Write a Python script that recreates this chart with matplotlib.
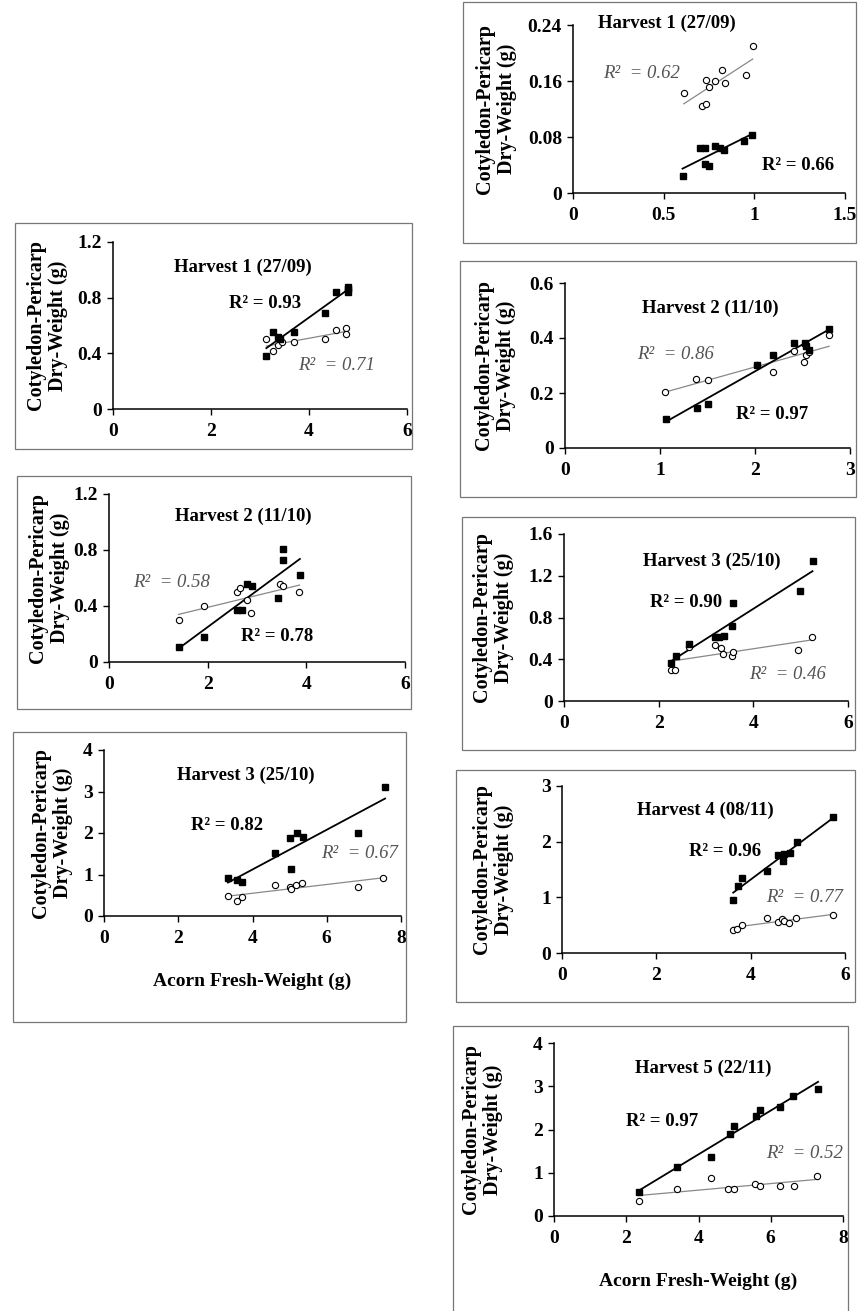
import numpy as np
import matplotlib
matplotlib.use("Agg")
import matplotlib.pyplot as plt
from matplotlib.patches import Rectangle
from matplotlib.ticker import FuncFormatter

plt.rcParams['font.family'] = ['Liberation Serif', 'DejaVu Serif']

W, H = 859, 1311

# ---------------- data ----------------
# Left column
L1_sq_x = [3.13, 3.27, 3.37, 3.40, 3.69, 4.32, 4.56, 4.80, 4.80, 4.80]
L1_sq_y = [0.38, 0.55, 0.52, 0.50, 0.55, 0.69, 0.84, 0.88, 0.84, 0.86]
L1_ci_x = [3.13, 3.27, 3.37, 3.44, 3.69, 4.32, 4.56, 4.76, 4.76]
L1_ci_y = [0.50, 0.42, 0.46, 0.48, 0.48, 0.50, 0.57, 0.58, 0.54]

L2_sq_x = [1.42, 1.92, 2.60, 2.69, 2.80, 2.89, 3.43, 3.52, 3.52, 3.87]
L2_sq_y = [0.11, 0.18, 0.37, 0.37, 0.56, 0.54, 0.46, 0.81, 0.73, 0.62]
L2_ci_x = [1.41, 1.92, 2.60, 2.65, 2.80, 2.87, 3.46, 3.52, 3.86]
L2_ci_y = [0.30, 0.40, 0.50, 0.53, 0.44, 0.35, 0.56, 0.54, 0.50]

L3_sq_x = [3.34, 3.59, 3.73, 4.60, 5.01, 5.05, 5.19, 5.35, 6.85, 7.57]
L3_sq_y = [0.91, 0.87, 0.81, 1.53, 1.87, 1.13, 1.99, 1.91, 1.99, 3.12]
L3_ci_x = [3.33, 3.57, 3.72, 4.60, 5.01, 5.03, 5.17, 5.32, 6.83, 7.52]
L3_ci_y = [0.48, 0.36, 0.45, 0.75, 0.69, 0.66, 0.75, 0.79, 0.71, 0.91]

# Right column
R1_sq_x = [0.604, 0.700, 0.727, 0.727, 0.751, 0.783, 0.810, 0.830, 0.943, 0.985]
R1_sq_y = [0.024, 0.064, 0.064, 0.041, 0.039, 0.067, 0.065, 0.061, 0.075, 0.083]
R1_ci_x = [0.611, 0.709, 0.733, 0.731, 0.751, 0.783, 0.820, 0.838, 0.954, 0.991]
R1_ci_y = [0.143, 0.125, 0.127, 0.161, 0.152, 0.160, 0.176, 0.157, 0.168, 0.210]

R2_sq_x = [1.06, 1.39, 1.51, 2.02, 2.19, 2.41, 2.53, 2.54, 2.57, 2.78]
R2_sq_y = [0.107, 0.145, 0.161, 0.303, 0.339, 0.382, 0.382, 0.372, 0.358, 0.434]
R2_ci_x = [1.05, 1.38, 1.51, 2.02, 2.19, 2.41, 2.52, 2.54, 2.57, 2.78]
R2_ci_y = [0.204, 0.251, 0.246, 0.301, 0.275, 0.352, 0.312, 0.339, 0.348, 0.412]

R3_sq_x = [2.25, 2.37, 2.64, 3.18, 3.27, 3.37, 3.55, 3.58, 4.98, 5.25]
R3_sq_y = [0.36, 0.43, 0.55, 0.61, 0.61, 0.62, 0.72, 0.94, 1.05, 1.34]
R3_ci_x = [2.25, 2.34, 2.65, 3.18, 3.32, 3.36, 3.54, 3.57, 4.94, 5.23]
R3_ci_y = [0.30, 0.30, 0.52, 0.54, 0.51, 0.45, 0.43, 0.47, 0.49, 0.61]

R4_sq_x = [3.63, 3.74, 3.81, 4.35, 4.59, 4.69, 4.71, 4.83, 4.98, 5.75]
R4_sq_y = [0.96, 1.20, 1.34, 1.48, 1.76, 1.66, 1.78, 1.79, 2.00, 2.44]
R4_ci_x = [3.62, 3.72, 3.81, 4.35, 4.59, 4.66, 4.71, 4.82, 4.96, 5.74]
R4_ci_y = [0.42, 0.44, 0.51, 0.62, 0.55, 0.61, 0.58, 0.53, 0.62, 0.68]

R5_sq_x = [2.36, 3.41, 4.34, 4.86, 4.97, 5.60, 5.69, 6.26, 6.61, 7.31]
R5_sq_y = [0.55, 1.14, 1.37, 1.89, 2.07, 2.32, 2.46, 2.52, 2.78, 2.93]
R5_ci_x = [2.36, 3.40, 4.34, 4.83, 4.97, 5.57, 5.69, 6.26, 6.63, 7.28]
R5_ci_y = [0.35, 0.62, 0.87, 0.62, 0.62, 0.73, 0.70, 0.70, 0.70, 0.93]

titles = ["Harvest 1 (27/09)", "Harvest 2 (11/10)", "Harvest 3 (25/10)",
          "Harvest 1 (27/09)", "Harvest 2 (11/10)", "Harvest 3 (25/10)",
          "Harvest 4 (08/11)", "Harvest 5 (22/11)"]
r2_black = ["0.93", "0.78", "0.82", "0.66", "0.97", "0.90", "0.96", "0.97"]
r2_gray = ["0.71", "0.58", "0.67", "0.62", "0.86", "0.46", "0.77", "0.52"]

xticks_list = [[0, 2, 4, 6], [0, 2, 4, 6], [0, 2, 4, 6, 8],
               [0, 0.5, 1, 1.5], [0, 1, 2, 3], [0, 2, 4, 6], [0, 2, 4, 6], [0, 2, 4, 6, 8]]
yticks_list = [[0, 0.4, 0.8, 1.2], [0, 0.4, 0.8, 1.2], [0, 1, 2, 3, 4],
               [0, 0.08, 0.16, 0.24], [0, 0.2, 0.4, 0.6], [0, 0.4, 0.8, 1.2, 1.6],
               [0, 1, 2, 3], [0, 1, 2, 3, 4]]

panels = [
    (L1_sq_x, L1_sq_y, L1_ci_x, L1_ci_y),
    (L2_sq_x, L2_sq_y, L2_ci_x, L2_ci_y),
    (L3_sq_x, L3_sq_y, L3_ci_x, L3_ci_y),
    (R1_sq_x, R1_sq_y, R1_ci_x, R1_ci_y),
    (R2_sq_x, R2_sq_y, R2_ci_x, R2_ci_y),
    (R3_sq_x, R3_sq_y, R3_ci_x, R3_ci_y),
    (R4_sq_x, R4_sq_y, R4_ci_x, R4_ci_y),
    (R5_sq_x, R5_sq_y, R5_ci_x, R5_ci_y),
]

# ---------------- layout (pixels) ----------------
# axes: (x0, x1, ytop, ybottom)
axes_px = [(113, 407, 242, 409), (109, 405, 494, 662), (104, 401, 750, 916),
           (573, 845, 25, 193), (565, 850, 283, 448), (564, 848, 534, 701),
           (562, 845, 786, 953), (554, 843, 1043, 1216)]
# boxes: (x0, x1, ytop, ybottom)
boxes_px = [(15, 412, 223, 449), (17, 411, 476, 709), (13, 406, 732, 1022),
            (463, 856, 2, 243), (460, 856, 261, 497), (462, 855, 517, 750),
            (456, 855, 770, 1002), (453, 848, 1026, 1320)]
ylabel_off = [-46, -40, -32, -57, -50, -51, -49, -52]
# positions of texts in data coordinates: title, black R2, gray R2
title_pos = [(2.65, 1.02), (2.73, 1.04), (3.81, 3.40), (0.516, 0.243),
             (1.53, 0.509), (3.13, 1.34), (3.03, 2.57), (4.13, 3.42)]
black_pos = [(3.1, 0.76), (3.41, 0.18), (3.32, 2.17), (1.24, 0.039),
             (2.18, 0.121), (2.58, 0.94), (3.46, 1.82), (3.0, 2.19)]
gray_pos = [(4.56, 0.31), (1.27, 0.57), (6.88, 1.51), (0.376, 0.171),
            (1.16, 0.339), (4.73, 0.25), (5.15, 0.99), (6.93, 1.45)]
has_xlabel = [False, False, True, False, False, False, False, True]

fig = plt.figure(figsize=(W / 100, H / 100), dpi=100)

for (bx0, bx1, bt, bb) in boxes_px:
    fig.patches.append(Rectangle((bx0 / W, 1 - bb / H), (bx1 - bx0) / W, (bb - bt) / H,
                                 transform=fig.transFigure, fill=False,
                                 edgecolor='#777777', linewidth=0.9))

fmt = FuncFormatter(lambda v, p: ('%g' % v))

for i, (sx, sy, cx, cy) in enumerate(panels):
    x0, x1, yt, yb = axes_px[i]
    ax = fig.add_axes([x0 / W, 1 - yb / H, (x1 - x0) / W, (yb - yt) / H])
    xt = xticks_list[i]
    yt_ = yticks_list[i]
    ax.set_xlim(xt[0], xt[-1])
    ax.set_ylim(yt_[0], yt_[-1])
    ax.set_xticks(xt)
    ax.set_yticks(yt_)
    ax.xaxis.set_major_formatter(fmt)
    ax.yaxis.set_major_formatter(fmt)
    for s in ['top', 'right']:
        ax.spines[s].set_visible(False)
    for s in ['left', 'bottom']:
        ax.spines[s].set_linewidth(1.1)
    ax.tick_params(direction='out', length=4, width=1.0, labelsize=14)
    ax.tick_params(axis='x', pad=6)
    ax.tick_params(axis='y', pad=4)
    for lab in ax.get_xticklabels() + ax.get_yticklabels():
        lab.set_fontweight('bold')

    # regression lines
    sxa, sya = np.array(sx), np.array(sy)
    cxa, cya = np.array(cx), np.array(cy)
    pb = np.polyfit(sxa, sya, 1)
    pg = np.polyfit(cxa, cya, 1)
    xb = np.array([sxa.min(), sxa.max()])
    xg = np.array([cxa.min(), cxa.max()])
    ax.plot(xg, np.polyval(pg, xg), color='#888888', lw=0.9, zorder=2)
    ax.plot(xb, np.polyval(pb, xb), color='black', lw=1.3, zorder=2)
    ax.plot(cxa, cya, linestyle='none', marker='o', markersize=4.5,
            markerfacecolor='white', markeredgecolor='black', markeredgewidth=0.8, zorder=3)
    ax.plot(sxa, sya, linestyle='none', marker='s', markersize=5,
            color='black', zorder=4)

    ax.text(*title_pos[i], titles[i], ha='center', va='center',
            fontsize=13.5, fontweight='bold')
    ax.text(*black_pos[i], "R² = " + r2_black[i], ha='center', va='center',
            fontsize=13.5, fontweight='bold')
    ax.text(*gray_pos[i], "R²  = " + r2_gray[i], ha='center', va='center',
            fontsize=13.5, fontstyle='italic', color='#555555')

    ax.set_ylabel("Cotyledon-Pericarp\nDry-Weight (g)", fontsize=14.5,
                  fontweight='bold', linespacing=1.12)
    ax.yaxis.set_label_coords((ylabel_off[i] + 1) / (x1 - x0), 0.5)
    if has_xlabel[i]:
        ax.set_xlabel("Acorn Fresh-Weight (g)", fontsize=14, fontweight='bold')
        ax.xaxis.set_label_coords(0.5, -57 / (yb - yt))

fig.savefig("out.png", dpi=100)
